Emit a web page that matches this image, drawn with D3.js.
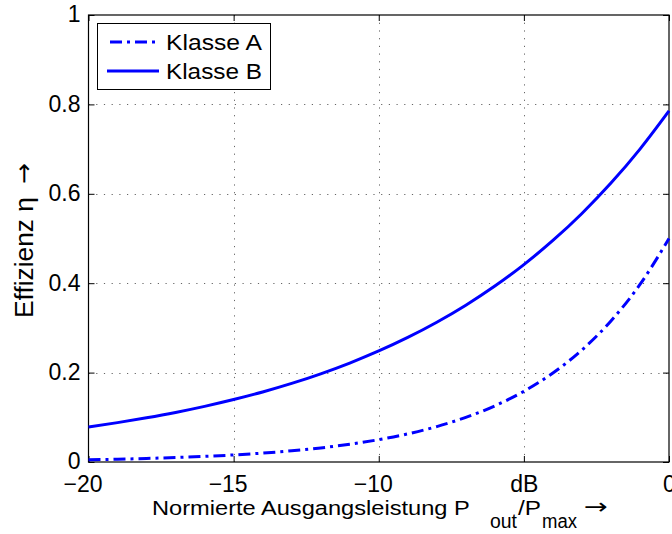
<!DOCTYPE html>
<html>
<head>
<meta charset="utf-8">
<script src="https://cdn.jsdelivr.net/npm/d3@7"></script>
<style>
  body { margin: 0; background: #fff; }
  text { font-family: "Liberation Sans", Arial, sans-serif; }
</style>
</head>
<body>
<svg id="chart" width="672" height="534"></svg>
<script>
// Normierte Ausgangsleistung in dB
var pout = [-20,-19,-18,-17,-16,-15,-14,-13,-12,-11,-10,-9,-8,-7,-6,-5,-4,-3,-2,-1,0];
// Klasse A Wirkungsgrad
var klasseA = [0.005,0.0063,0.0079,0.010,0.0126,0.0158,0.0199,0.0251,0.0315,0.0397,0.050,
               0.0629,0.0792,0.0998,0.1256,0.1581,0.1991,0.2506,0.3155,0.3972,0.500];
// Klasse B Wirkungsgrad
var klasseB = [0.0785,0.0881,0.0989,0.1109,0.1245,0.1397,0.1567,0.1758,0.1973,0.2214,0.2484,
               0.2787,0.3127,0.3508,0.3936,0.4417,0.4956,0.5560,0.6239,0.7000,0.7854];
var xTicks = [-20,-15,-10,-5,0];
var xTickLabels = ["\u221220","\u221215","\u221210","dB","0"];
var yTicks = [0,0.2,0.4,0.6,0.8,1];
var yTickLabels = ["0","0.2","0.4","0.6","0.8","1"];

var mLeft = 88.5, mRight = 669, mTop = 15, mBottom = 462;
var svg = d3.select("#chart");

var x = d3.scaleLinear().domain([-20, 0]).range([mLeft, mRight]);
var y = d3.scaleLinear().domain([0, 1]).range([mBottom, mTop]);

// grid
var grid = svg.append("g")
    .attr("stroke", "#666")
    .attr("stroke-width", 1)
    .attr("stroke-dasharray", "1.2,6.5");
xTicks.slice(1, -1).forEach(function(t) {
  grid.append("line")
      .attr("x1", Math.round(x(t)) + 0.5).attr("x2", Math.round(x(t)) + 0.5)
      .attr("y1", mTop).attr("y2", mBottom);
});
yTicks.slice(1, -1).forEach(function(t) {
  grid.append("line")
      .attr("x1", mLeft).attr("x2", mRight)
      .attr("y1", Math.round(y(t)) + 0.5).attr("y2", Math.round(y(t)) + 0.5);
});

// axes with inward ticks
var xAxisB = d3.axisBottom(x).tickValues(xTicks).tickSizeInner(-6).tickSizeOuter(0)
    .tickFormat(function(d, i) { return xTickLabels[i]; });
var xAxisT = d3.axisTop(x).tickValues(xTicks).tickSizeInner(-6).tickSizeOuter(0).tickFormat("");
var yAxisL = d3.axisLeft(y).tickValues(yTicks).tickSizeInner(-6).tickSizeOuter(0)
    .tickFormat(function(d, i) { return yTickLabels[i]; });
var yAxisR = d3.axisRight(y).tickValues(yTicks).tickSizeInner(-6).tickSizeOuter(0).tickFormat("");

function styleAxis(g) {
  g.select(".domain").remove();
  g.selectAll(".tick line").attr("stroke", "#000");
  g.selectAll(".tick text").attr("fill", "#000")
      .style("font-size", "23px");
}
svg.append("g").attr("transform", "translate(0," + mBottom + ")").call(xAxisB).call(styleAxis)
    .selectAll(".tick text").attr("dy", null).attr("y", 30)
    .attr("x", function(d, i) { return xTickLabels[i].charAt(0) === "\u2212" ? -6 : 0; });
svg.append("g").attr("transform", "translate(0," + mTop + ")").call(xAxisT).call(styleAxis);
svg.append("g").attr("transform", "translate(" + mLeft + ",0)").call(yAxisL).call(styleAxis)
    .selectAll(".tick text").attr("x", -8).attr("dy", "0.3em");
svg.append("g").attr("transform", "translate(" + mRight + ",0)").call(yAxisR).call(styleAxis);

svg.append("rect")
    .attr("x", mLeft).attr("y", mTop)
    .attr("width", mRight - mLeft).attr("height", mBottom - mTop)
    .attr("fill", "none").attr("stroke", "#000").attr("stroke-width", 1.2);

// curves
var line = d3.line().curve(d3.curveMonotoneX);
var ptsA = pout.map(function(p, i) { return [x(p), y(klasseA[i])]; });
var ptsB = pout.map(function(p, i) { return [x(p), y(klasseB[i])]; });

svg.append("path").attr("d", line(ptsB))
    .attr("fill", "none").attr("stroke", "#0000ff").attr("stroke-width", 3);
svg.append("path").attr("d", line(ptsA))
    .attr("fill", "none").attr("stroke", "#0000ff").attr("stroke-width", 3)
    .attr("stroke-dasharray", "12,5,3,5");

// text stretched horizontally to a given width (the original font runs wider)
function wideText(parent, str, px, py, size, w, rot, family) {
  var t = parent.append("text").style("font-size", size + "px").text(str);
  if (family) t.style("font-family", family);
  var len = t.node().getComputedTextLength();
  t.attr("transform", "translate(" + px + "," + py + ")" + (rot ? " rotate(" + rot + ")" : "") +
      " scale(" + (w / len) + ",1)");
  return t;
}

// legend
var lg = svg.append("g");
lg.append("rect").attr("x", 97.5).attr("y", 23.5).attr("width", 173).attr("height", 66)
    .attr("fill", "#fff").attr("stroke", "#000").attr("stroke-width", 1);
lg.append("line").attr("x1", 107).attr("x2", 159).attr("y1", 42).attr("y2", 42)
    .attr("stroke", "#0000ff").attr("stroke-width", 3).attr("stroke-dasharray", "12,5,3,5")
    .attr("stroke-dashoffset", -3);
lg.append("line").attr("x1", 107).attr("x2", 159).attr("y1", 71).attr("y2", 71)
    .attr("stroke", "#0000ff").attr("stroke-width", 3);
wideText(lg, "Klasse A", 166, 50, 22, 96);
wideText(lg, "Klasse B", 166, 79, 22, 96);

// x axis label, pieces for the subscripts
wideText(svg, "Normierte Ausgangsleistung P", 152, 515, 21, 318);
wideText(svg, "out", 490, 528, 20, 27);
wideText(svg, "/P", 518, 515, 21, 23);
wideText(svg, "max", 542, 528, 20, 35);
wideText(svg, "\u2192", 584, 514, 22, 24, 0, "DejaVu Sans");

// y axis label
wideText(svg, "Effizienz \u03b7", 33, 318, 25, 121, -90);
wideText(svg, "\u2192", 32, 184, 24, 21, -90, "DejaVu Sans");
</script>
</body>
</html>
